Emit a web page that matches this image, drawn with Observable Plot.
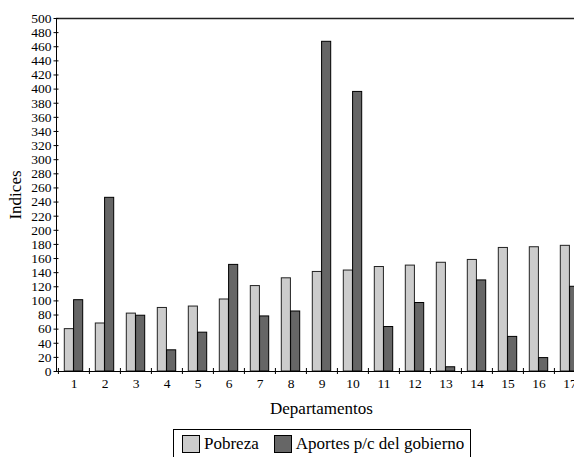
<!DOCTYPE html>
<html>
<head>
<meta charset="utf-8">
<script src="https://cdn.jsdelivr.net/npm/d3@7"></script>
<script src="https://cdn.jsdelivr.net/npm/@observablehq/plot@0.6"></script>
<style>
  html, body { margin: 0; padding: 0; background: white; overflow: hidden; width: 574px; height: 457px; }
  #chart { position: absolute; left: 0; top: 0; }
  #legend {
    position: absolute; left: 173px; top: 429px; width: 298px; height: 40px;
    box-sizing: border-box; border: 1px solid #000; background: white;
    font-family: "Liberation Serif", serif; font-size: 17px; color: #000;
    display: flex; align-items: flex-start; padding: 5px 0 0 8px; white-space: nowrap;
  }
  .item { display: flex; align-items: center; height: 18px; line-height: 18px; }
  .sw { display: inline-block; box-sizing: border-box; width: 18px; height: 18px; border: 1px solid #000; margin-right: 4px; }
</style>
</head>
<body>
<div id="chart"></div>
<div id="legend">
  <span class="item"><span class="sw" style="background:#cccccc"></span>Pobreza</span>
  <span class="item" style="margin-left:15px"><span class="sw" style="background:#666666"></span>Aportes p/c del gobierno</span>
</div>
<script>
const departamentos = ["1","2","3","4","5","6","7","8","9","10","11","12","13","14","15","16","17"];
const pobreza = [60, 68, 82, 90, 92, 102, 121, 132, 141, 143, 148, 150, 154, 158, 175, 176, 178];
const aportes = [101, 246, 79, 30, 55, 151, 78, 85, 467, 396, 63, 97, 6, 129, 49, 19, 120];
const yTicks = d3.range(0, 501, 20);

const W = 586, H = 420, ML = 56, MT = 18, MB = 49;
const bw = (W - ML) / departamentos.length;
const gap = 6.3, barW = (bw - 2 * gap) / 2;

const chart = Plot.plot({
  width: W,
  height: H,
  marginLeft: ML,
  marginRight: 0,
  marginTop: MT,
  marginBottom: MB,
  style: {fontFamily: "Liberation Serif, serif", fontSize: "13px", maxWidth: "none", background: "white", color: "black", overflow: "visible"},
  x: {type: "band", domain: departamentos, padding: 0},
  y: {domain: [0, 500]},
  marks: [
    Plot.barY(departamentos, {x: d => d, y: (d, i) => pobreza[i], fill: "#cccccc", stroke: "#222", strokeWidth: 1, insetLeft: gap, insetRight: gap + barW}),
    Plot.barY(departamentos, {x: d => d, y: (d, i) => aportes[i], fill: "#666666", stroke: "#000", strokeWidth: 1, insetLeft: gap + barW, insetRight: gap}),
    Plot.frame({stroke: "#000", strokeWidth: 1}),
    Plot.ruleY([500], {stroke: "#222", strokeWidth: 1.6}),
    Plot.axisY({ticks: yTicks, tickSize: 5, dx: 2.5, text: null, label: null}),
    Plot.axisY({ticks: yTicks, tickSize: 0, tickPadding: 5, tickFormat: d => d, label: null, fontSize: 13.5}),
    Plot.axisX({text: null, tickSize: 6, dx: -bw / 2, dy: -3, label: null}),
    Plot.axisX({tickSize: 0, tickPadding: 7, label: null, fontSize: 13.5}),
    Plot.text(["Departamentos"], {frameAnchor: "bottom", dy: 37, fontSize: 17, lineAnchor: "middle"}),
    Plot.text(["Indices"], {frameAnchor: "left", rotate: -90, dx: -41, fontSize: 17, textAnchor: "middle", lineAnchor: "middle"})
  ]
});
document.getElementById("chart").appendChild(chart);
</script>
</body>
</html>
